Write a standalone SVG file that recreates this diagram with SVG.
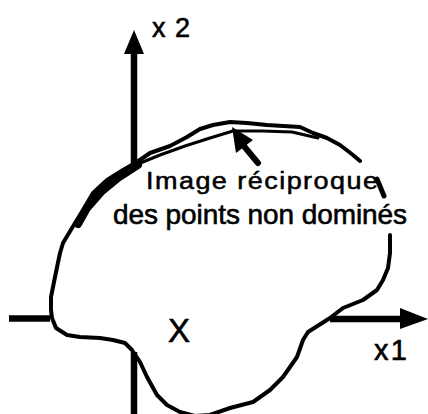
<svg xmlns="http://www.w3.org/2000/svg" width="428" height="414" viewBox="0 0 428 414">
<style>
.ln{fill:none;stroke:#000;stroke-linejoin:round;stroke-linecap:round}
.blob{stroke-width:4}
.axis{stroke-width:6.5;stroke-linecap:butt}
.t{font-family:"Liberation Sans",Arial,Helvetica,sans-serif;fill:#000;stroke:#000;stroke-width:0.6}
</style>
<rect width="428" height="414" fill="#fff"/>
<g id="region-X">
<path class="ln blob" d="M360,161 L353,155 L340,145 L327,138 L313,133 L300,127 L267,125 L247,123 L230,122 L213,125 L200,129 L187,137 L170,146 L150,153 L137,162 L123,170 L107,180 L93,193 L83,210 L72,228 L63,243 L60,253 L55,277 L51,297 L51,310 L52,318 L56,328 L67,335 L80,337 L100,338 L113,340 L125,343 L132,350 L140,362 L147,377 L157,395 L167,405 L180,412 L195,416 L210,415 L230,408 L253,402 L270,390 L283,377 L297,357 L303,340 L308,332 L330,318 L343,308 L363,300 L377,290 L383,280 L388,268 L390,253 L390,235"/>
<path class="ln" stroke-width="5" d="M377,179 L384,196"/>
</g>
<g id="frontier">
<path class="ln" stroke-width="8" d="M78,224 L87,208 L101,192 L118,178 L138,165"/>
<path class="ln" stroke-width="3" d="M138,164 L160,155 L185,146 L210,138 L233,131 L262,131 L292,132 L318,138"/>
</g>
<g id="connectors">
<path class="ln axis" d="M134,52 L134,165"/>
<path class="ln axis" d="M134,352 L134,414"/>
<path class="ln axis" d="M9,318.5 L50,318.5"/>
<path class="ln axis" d="M330,319 L402,319"/>
<polygon points="134,30 144,54 124,54" fill="#000"/>
<polygon points="428,319 400,308 400,329" fill="#000"/>
<path class="ln" stroke-width="6" d="M258,163 L243,145"/>
<polygon points="232,127 253,140 236,153" fill="#000"/>
</g>
<g id="labels">
<text class="t" x="152" y="37" font-size="27" stroke-width="0.9" textLength="38" lengthAdjust="spacing">x2</text>
<text class="t" x="374" y="360" font-size="29" stroke-width="0.9" textLength="33" lengthAdjust="spacing">x1</text>
<text class="t" x="168" y="342" font-size="33" stroke-width="0.2">X</text>
<text class="t" transform="translate(146,189) scale(1,0.88)" x="0" y="0" font-size="27" textLength="232" lengthAdjust="spacing">Image  réciproque</text>
<text class="t" x="113" y="224" font-size="28" textLength="294" lengthAdjust="spacing">des points non dominés</text>
</g>
</svg>
